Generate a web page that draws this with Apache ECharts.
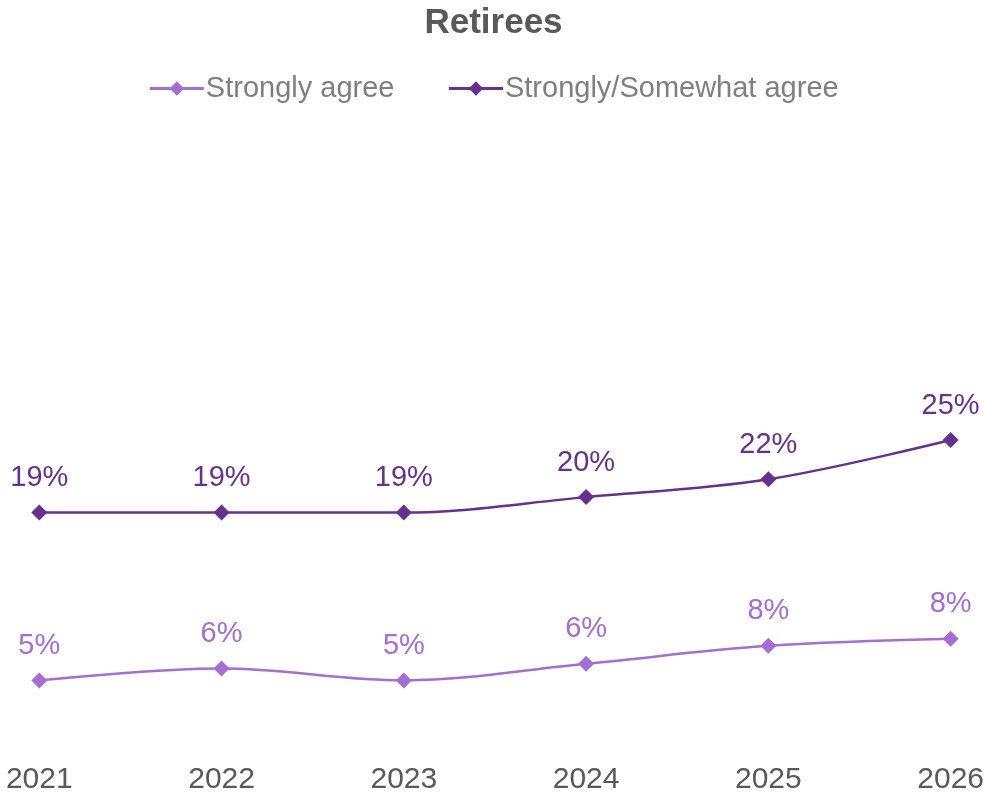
<!DOCTYPE html>
<html>
<head>
<meta charset="utf-8">
<script src="https://cdn.jsdelivr.net/npm/echarts@6/dist/echarts.min.js"></script>
<style>
html,body{margin:0;padding:0;background:#fff;}
#chart{width:987px;height:798px;}
</style>
</head>
<body>
<div id="chart"></div>
<script>
const categories = ['2021','2022','2023','2024','2025','2026'];
const stronglyAgree = [4.8, 5.8, 4.8, 6.2, 7.7, 8.3];
const stronglySomewhatAgree = [18.9, 18.9, 18.9, 20.2, 21.7, 25.0];
const seriesNames = ['Strongly agree', 'Strongly/Somewhat agree'];
const colors = ['#A46ED2', '#66308F'];

const chart = echarts.init(document.getElementById('chart'), null, {renderer: 'canvas'});
const fontFamily = 'Liberation Sans, Arial, sans-serif';

function mkSeries(name, data, color) {
  return {
    name: name,
    type: 'line',
    data: data,
    smooth: 0.35,
    symbol: 'diamond',
    symbolSize: 16,
    lineStyle: {color: color, width: 2.5},
    itemStyle: {color: color},
    label: {
      show: true,
      position: 'top',
      distance: 12,
      color: color,
      fontSize: 29,
      fontFamily: fontFamily,
      formatter: p => Math.round(p.value) + '%'
    }
  };
}

chart.setOption({
  animation: false,
  color: colors,
  title: {
    text: 'Retirees',
    left: 'center',
    top: 1,
    textStyle: {fontSize: 35, fontWeight: 'bold', color: '#595959', fontFamily: fontFamily}
  },
  legend: {
    top: 69,
    left: 'center',
    itemWidth: 54,
    itemHeight: 18,
    itemGap: 53,
    lineStyle: {width: 3},
    textStyle: {fontSize: 29, color: '#7F7F7F', fontFamily: fontFamily, padding: [0,0,0,-3]},
    data: seriesNames
  },
  grid: {left: 39.3, right: 36, top: 142.5, bottom: 60.5},
  xAxis: {
    type: 'category',
    data: categories,
    boundaryGap: false,
    axisLine: {show: false},
    axisTick: {show: false},
    axisLabel: {fontSize: 30, color: '#595959', fontFamily: fontFamily, margin: 27}
  },
  yAxis: {
    type: 'value',
    min: 0,
    max: 50,
    show: false,
    splitLine: {show: false}
  },
  series: [
    mkSeries(seriesNames[0], stronglyAgree, colors[0]),
    mkSeries(seriesNames[1], stronglySomewhatAgree, colors[1])
  ]
});
</script>
</body>
</html>
